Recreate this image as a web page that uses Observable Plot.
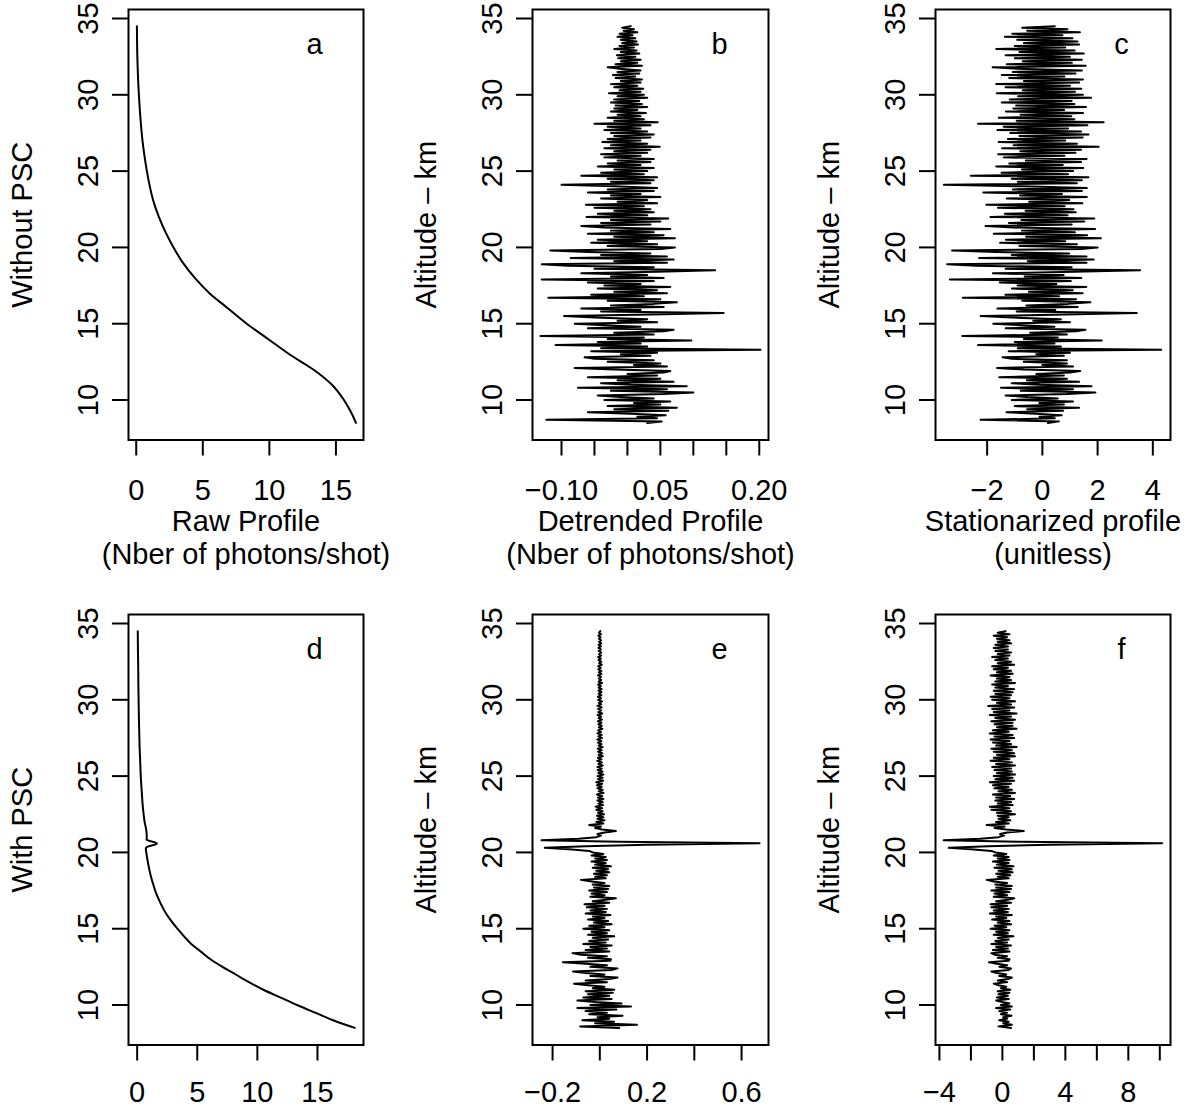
<!DOCTYPE html>
<html>
<head>
<meta charset="utf-8">
<script src="https://cdn.jsdelivr.net/npm/d3@7"></script>
<script src="https://cdn.jsdelivr.net/npm/@observablehq/plot@0.6"></script>
<style>
  html, body { margin: 0; padding: 0; background: #fff; overflow: hidden; }
  #fig { position: relative; width: 1188px; height: 1109px; background: #fff; }
  #fig > div { position: absolute; }
  #fig svg { overflow: visible; }
</style>
</head>
<body>
<div id="fig"></div>
<script>
// ---------------- DATA ----------------
// Altitude grid of the lidar profiles (km): first level and spacing
const altStart = 8.5;
const altStep = 0.1;

// Panel a: raw profile without PSC (photons/shot), altitude ascending
const rawAltA = [8.5, 9, 9.5, 10, 11, 12, 13, 14, 15, 16, 17, 18, 19, 20, 21, 22, 23, 24, 25, 26, 27, 28, 29, 30, 31, 32, 33, 34.5];
const rawA    = [16.5, 16.25, 15.95, 15.6, 14.7, 13.3, 11.5, 9.9, 8.3, 6.9, 5.5, 4.4, 3.5, 2.8, 2.2, 1.7, 1.3, 1.02, 0.8, 0.62, 0.47, 0.36, 0.27, 0.2, 0.14, 0.1, 0.07, 0.05];

// Panel d: raw profile with PSC (photons/shot), altitude ascending
const rawAltD = [8.5, 9, 9.5, 10, 10.5, 11, 11.5, 12, 12.5, 13, 13.5, 14, 14.5, 15, 15.5, 16, 16.5, 17, 17.5, 18, 18.5, 19, 19.5, 20, 20.25, 20.35, 20.58, 20.85, 21, 21.3, 21.5, 21.7, 22, 22.5, 23, 24, 25, 26, 27, 28, 29, 30, 31, 32, 33, 34.5];
const rawD    = [18.1, 16.3, 14.8, 13.3, 11.9, 10.5, 9.3, 8.2, 7.1, 6.1, 5.3, 4.5, 3.9, 3.35, 2.85, 2.4, 2.05, 1.75, 1.5, 1.3, 1.12, 0.98, 0.86, 0.76, 0.72, 0.8, 1.65, 0.78, 0.8, 0.78, 0.75, 0.7, 0.62, 0.54, 0.47, 0.38, 0.3, 0.25, 0.2, 0.17, 0.14, 0.12, 0.1, 0.09, 0.07, 0.05];

// Panel b: detrended profile without PSC, in 0.001 photons/shot, from 8.5 km upward every 0.1 km
const detrendedB = [
  30, 52, -123, 45, 15, 58, 5, -60, 62, -20,
  75, -30, 50, 10, 65, -35, 40, -10, -45, 55,
  100, -25, 60, -75, 90, 5, -40, 70, -15, 50,
  -60, 45, 0, 55, 65, -20, -80, 60, 10, 50,
  -30, 40, -50, -65, 35, -10, 45, -55, 202, -40,
  30, -109, 20, -45, 97, -30, 25, -132, 40, -20,
  55, 70, -60, 20, -35, -80, 45, -15, 30, -50,
  -96, 35, 146, -40, 20, -70, 55, -25, 40, 75,
  -30, 50, -120, 25, -55, 60, -20, 45, -45, 65,
  -35, 20, -60, 40, -130, 55, -25, 30, -70, 45,
  133, -50, 40, -90, -130, 60, -20, 70, -86, 60,
  -40, 35, -60, -117, 50, 72, -30, 45, -55, 30,
  -45, 72, -20, 55, -60, 40, -25, 65, -35, -70,
  35, -40, 50, -25, 62, -62, 30, -45, 40, -20,
  35, -50, 25, -63, 45, -15, 30, -40, 50, -25,
  20, -60, 40, -30, 45, -20, -100, 35, -25, 40,
  -30, 45, -70, 25, -40, 30, -20, 40, -45, 20,
  -30, 35, -15, 40, -35, 20, -40, 30, -20, 35,
  -35, 49, -25, 30, -38, 20, -30, 35, -20, 40,
  -25, 30, -35, 20, -30, 35, -50, 46, -20, 25,
  -30, 20, -15, 28, -25, 15, -20, 30, -18, 22,
  -25, 18, -20, 30, -15, 25, -28, 20, -12, 24,
  -20, 15, -25, 20, -10, 22, -18, 12, -22, 18,
  -15, 20, -12, -30, 22, -18, 15, -10, 20, -14,
  12, -16, 18, -10, 14, -20, 10, -12, 16, -8,
  14, -10, 12, -15, 8, -12, 15, -6, 10, -8,
  5
];

// Panel c: stationarized profile without PSC, in 0.01 units, same grid
const stationarC = [
  20, 60, -224, 45, -10, 70, -25, -130, 75, -55,
  133, -100, 78, -11, 111, -111, 56, -56, -133, 89,
  192, -78, 111, -150, 178, -11, -111, 133, -56, 89,
  -156, 78, -22, 100, 137, -67, -164, 111, 0, 89,
  -67, 89, -111, -144, 78, -22, 100, -122, 430, -89,
  67, -233, 44, -100, 215, -67, 56, -290, 89, -44,
  122, 156, -133, 44, -78, -178, 100, -33, 67, -111,
  -223, 81, 342, -93, 47, -163, 128, -58, 93, 174,
  -73, 122, -288, 61, -134, 146, -49, 110, -110, 159,
  -90, 51, -154, 103, -335, 141, -64, 77, -179, 115,
  354, -133, 106, -239, -345, 160, -53, 186, -229, 160,
  -111, 97, -167, -327, 139, 200, -83, 125, -153, 83,
  -132, 212, -59, 162, -176, 118, -74, 191, -103, -206,
  106, -121, 152, -76, 188, -188, 91, -136, 121, -61,
  113, -161, 81, -203, 145, -48, 97, -129, 161, -81,
  71, -214, 143, -107, 161, -71, -357, 125, -89, 143,
  -111, 167, -259, 93, -148, 111, -74, 148, -167, 74,
  -120, 140, -60, 160, -140, 80, -160, 120, -80, 140,
  -146, 204, -104, 125, -158, 83, -125, 146, -83, 167,
  -116, 140, -163, 93, -140, 163, -233, 222, -93, 116,
  -158, 105, -79, 147, -132, 79, -105, 158, -95, 116,
  -147, 106, -118, 176, -88, 147, -165, 118, -71, 141,
  -133, 100, -167, 133, -67, 147, -120, 80, -147, 120,
  -107, 143, -86, -180, 157, -129, 107, -71, 143, -100,
  100, -133, 150, -83, 117, -167, 83, -100, 133, -67,
  127, -91, 109, -136, 73, -109, 136, -55, 91, -73,
  45
];

// Panel e: detrended profile with PSC, in 0.001 photons/shot, same grid
const detrendedE = [
  82, -83, 157, -20, 60, -74, 40, -10, 96, -45,
  30, -60, 70, -95, 132, -40, 92, -20, -95, 50,
  -70, 40, -50, 55, -60, 61, -30, 20, -50, -109,
  30, -60, 40, 75, -40, 20, -60, -113, 50, 75,
  -40, 30, -60, -156, 45, 47, -50, 30, -80, -116,
  40, -60, 30, -40, 50, -70, 25, -45, 35, -30,
  61, -50, 30, -35, 40, -70, 20, -45, 50, -25,
  35, -50, 20, -30, 45, -60, 25, -40, 30, -55,
  20, -65, 40, -30, 25, 68, -40, 20, -35, 30,
  -45, 35, -25, 40, -30, 20, -35, -80, 25, -20,
  30, -25, 40, -15, 35, -30, 47, -20, 25, -35,
  30, -20, 25, -35, 15, -30, -45, -130, -233, -60,
  200, 676, 80, -247, -90, -15, 5, -10, 20, 68,
  10, -20, 5, -45, 15, -15, 20, -10, 15, -12,
  18, -8, 12, -15, 10, -18, 14, -6, 12, -10,
  15, -8, 10, -12, 16, -5, 12, -10, 8, -12,
  10, -15, 14, -8, 12, -10, 15, -6, 11, -9,
  8, -10, 12, -6, 9, -11, 7, -8, 12, -5,
  10, -7, 8, -9, 12, -5, 7, -8, 6, -10,
  9, -6, 8, -10, 5, -7, 11, -4, 8, -6,
  7, -8, 9, -5, 6, -9, 10, -6, 5, -7,
  8, -10, 6, -4, 9, -7, 5, -8, 6, -5,
  7, -6, 8, -5, 4, -7, 9, -5, 6, -4,
  5, -8, 7, -4, 6, -6, 4, -7, 8, -3,
  6, -5, 4, -7, 5, -3, 6, -5, 4, -6,
  4, -5, 6, -3, 5, -4, 3, -6, 5, -3,
  2
];

// Panel f: stationarized profile with PSC, in 0.01 units, same grid
const stationarF = [
  55, -25, 60, 5, 40, -20, 30, 5, 58, -10,
  30, -20, 50, -40, 60, -10, 45, 0, -40, 40,
  -35, 35, -25, 45, -30, 50, -10, 25, -25, -55,
  30, -30, 35, 60, -20, 25, -35, -70, 40, 55,
  -20, 30, -35, -85, 40, 45, -30, 30, -50, -70,
  45, -60, 35, -40, 55, -70, 30, -45, 40, -30,
  70, -55, 35, -40, 45, -75, 25, -50, 55, -30,
  45, -65, 25, -40, 60, -80, 35, -55, 40, -70,
  30, -75, 55, -40, 35, 75, -55, 30, -50, 45,
  -70, 55, -40, 60, -45, 30, -55, -100, 40, -30,
  50, -40, 65, -25, 60, -50, 70, -35, 40, -60,
  45, -30, 40, -55, 25, -45, -70, -200, -341, -90,
  300, 1015, 120, -373, -140, -25, 10, -15, 30, 136,
  25, -50, 15, -100, 40, -40, 50, -25, 40, -30,
  80, -35, 55, -70, 45, -80, 65, -30, 55, -45,
  75, -40, 50, -60, 80, -25, 60, -50, 40, -60,
  55, -80, 75, -45, 65, -55, 80, -35, 60, -50,
  55, -65, 80, -40, 60, -75, 45, -55, 80, -35,
  75, -55, 60, -70, 90, -40, 55, -60, 45, -75,
  75, -50, 65, -80, 40, -60, 90, -35, 65, -50,
  65, -70, 80, -45, 55, -80, 90, -55, 45, -65,
  75, -90, 55, -35, 80, -65, 45, -75, 55, -45,
  65, -55, 75, -45, 35, -65, 80, -45, 55, -35,
  45, -75, 65, -35, 55, -55, 35, -65, 75, -30,
  55, -45, 35, -65, 45, -30, 55, -45, 35, -55,
  35, -45, 55, -30, 45, -35, 30, -55, 45, -30,
  20
];

// Axis ticks and tick labels
const altTicks = [10, 15, 20, 25, 30, 35];
const ticksA = [0, 5, 10, 15];               const labelsA = ["0", "5", "10", "15"];
const ticksB = [-0.10, -0.05, 0, 0.05, 0.10, 0.15, 0.20];
const labelsB = ["\u22120.10", "", "", "0.05", "", "", "0.20"];
const ticksC = [-2, 0, 2, 4];                const labelsC = ["\u22122", "0", "2", "4"];
const ticksD = [0, 5, 10, 15];               const labelsD = ["0", "5", "10", "15"];
const ticksE = [-0.2, 0, 0.2, 0.4, 0.6];     const labelsE = ["\u22120.2", "", "0.2", "", "0.6"];
const ticksF = [-4, -2, 0, 2, 4, 6, 8, 10];  const labelsF = ["\u22124", "", "0", "", "4", "", "8", ""];

// Titles
const rowTitles = ["Without PSC", "With PSC"];
const altitudeTitle = "Altitude \u2013 km";
const xTitles = ["Raw Profile\n(Nber of photons/shot)", "Detrended Profile\n(Nber of photons/shot)", "Stationarized profile\n(unitless)"];
const letters = ["a", "b", "c", "d", "e", "f"];

// ---------------- BUILD ----------------
const FONT = "Liberation Sans, Arial, Helvetica, sans-serif";
const FS = 29;
const yDomain = [7.38, 35.59];
const frameLeft = [128.3, 531.7, 935];
const frameWidth = [235, 236, 235];
const frameTop = [9.3, 614];
const frameHeight = 430.5;

function pairRows(alts, vals) { return alts.map((a, i) => ({alt: a, v: vals[i]})); }
function gridRows(vals, unit) { return vals.map((v, i) => ({alt: altStart + i * altStep, v: v * unit})); }

const panels = [
  {row: 0, col: 0, data: pairRows(rawAltA, rawA), curve: "monotone-y", xDomain: [-0.58, 17.07], ticks: ticksA, labels: labelsA, yTitle: rowTitles[0], xTitle: xTitles[0], letter: letters[0]},
  {row: 0, col: 1, data: gridRows(detrendedB, 0.001), curve: "linear", xDomain: [-0.144, 0.214], ticks: ticksB, labels: labelsB, yTitle: altitudeTitle, xTitle: xTitles[1], letter: letters[1]},
  {row: 0, col: 2, data: gridRows(stationarC, 0.01), curve: "linear", xDomain: [-3.87, 4.64], ticks: ticksC, labels: labelsC, yTitle: altitudeTitle, xTitle: xTitles[2], letter: letters[2]},
  {row: 1, col: 0, data: pairRows(rawAltD, rawD), curve: "monotone-y", xDomain: [-0.72, 18.83], ticks: ticksD, labels: labelsD, yTitle: rowTitles[1], xTitle: null, letter: letters[3]},
  {row: 1, col: 1, data: gridRows(detrendedE, 0.001), curve: "linear", xDomain: [-0.285, 0.714], ticks: ticksE, labels: labelsE, yTitle: altitudeTitle, xTitle: null, letter: letters[4]},
  {row: 1, col: 2, data: gridRows(stationarF, 0.01), curve: "linear", xDomain: [-4.25, 10.68], ticks: ticksF, labels: labelsF, yTitle: altitudeTitle, xTitle: null, letter: letters[5]}
];

const fig = document.getElementById("fig");
for (const p of panels) {
  const mL = 128, mT = 10, mR = 18, mB = p.row === 0 ? 140 : 64;
  const fw = frameWidth[p.col];
  const labelMap = new Map(p.ticks.map((t, i) => [t, p.labels[i]]));
  const marks = [
    Plot.line(p.data, {x: "v", y: "alt", stroke: "black", strokeWidth: 2, curve: p.curve}),
    Plot.frame({stroke: "black", strokeWidth: 2}),
    Plot.axisX({ticks: p.ticks, tickSize: 16, tickPadding: p.row === 0 ? 23 : 20, strokeWidth: 2, label: null,
      tickFormat: (d) => labelMap.get(d) ?? "", fill: "black"}),
    Plot.axisY({ticks: altTicks, tickSize: 16, strokeWidth: 2, label: null, tickFormat: () => ""}),
    Plot.text(altTicks, {y: (d) => d, text: (d) => String(d), frameAnchor: "left", textAnchor: "middle", lineAnchor: "middle", rotate: -90, dx: -40, fill: "black"}),
    Plot.text([p.yTitle], {frameAnchor: "left", textAnchor: "middle", lineAnchor: "middle", rotate: -90, dx: -106, fill: "black"}),
    Plot.text([p.letter], {frameAnchor: "top-right", textAnchor: "middle", lineAnchor: "middle", dx: -49, dy: 35, fill: "black"})
  ];
  if (p.xTitle) {
    marks.push(Plot.text([p.xTitle], {frameAnchor: "bottom", textAnchor: "middle", lineAnchor: "top", dy: 68, lineHeight: 1.12, fill: "black"}));
  }
  const chart = Plot.plot({
    width: mL + fw + mR,
    height: mT + frameHeight + mB,
    marginLeft: mL, marginTop: mT, marginRight: mR, marginBottom: mB,
    style: {background: "none", fontSize: FS + "px", fontFamily: FONT, color: "black", overflow: "visible", maxWidth: "none"},
    x: {domain: p.xDomain, axis: null},
    y: {domain: yDomain, axis: null},
    marks
  });
  const holder = document.createElement("div");
  holder.style.left = (frameLeft[p.col] - mL) + "px";
  holder.style.top = (frameTop[p.row] - mT) + "px";
  holder.style.width = (mL + fw + mR) + "px";
  holder.appendChild(chart);
  fig.appendChild(holder);
}
</script>
</body>
</html>
